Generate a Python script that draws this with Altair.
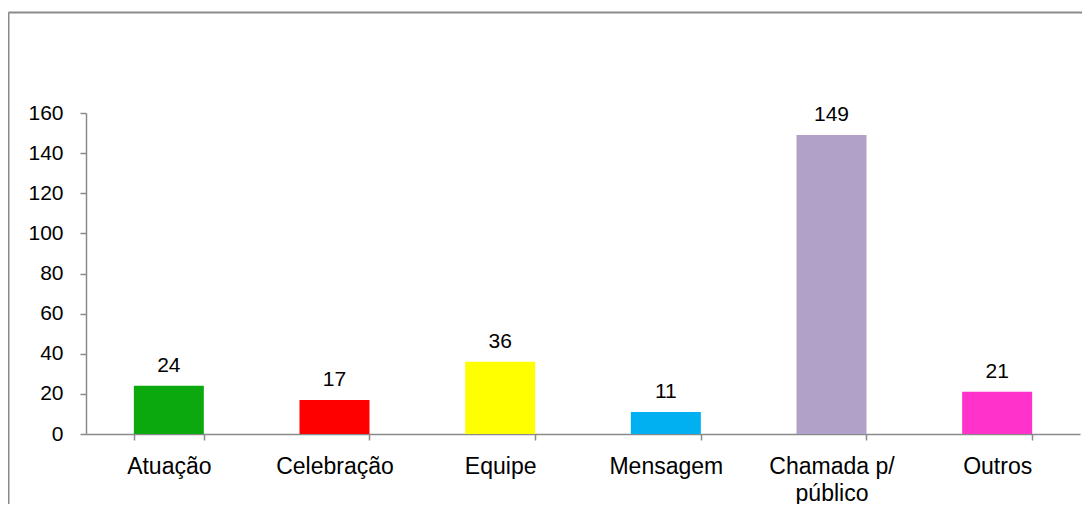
import altair as alt
import pandas as pd

categories = ["Atuação", "Celebração", "Equipe", "Mensagem", "Chamada p/ público", "Outros"]
values = [24, 17, 36, 11, 149, 21]
colors = ["#0BA80E", "#FF0000", "#FFFF00", "#00B0F0", "#B1A0C7", "#FF33CC"]
y_ticks = [0, 20, 40, 60, 80, 100, 120, 140, 160]

df = pd.DataFrame({"cat": categories, "val": values, "col": colors})

FONT = "Liberation Sans"
GRAY = "#8a8a8a"

x_enc = alt.X(
    "cat:N",
    sort=categories,
    scale=alt.Scale(paddingInner=0.5775, paddingOuter=0.28875),
    axis=alt.Axis(
        title=None,
        labelAngle=0,
        tickBand="extent",
        domainColor=GRAY,
        tickColor=GRAY,
        tickSize=6,
        domainWidth=1.5,
        tickWidth=1.5,
        labelFont=FONT,
        labelFontSize=23,
        labelColor="#000000",
        labelPadding=15,
        labelLineHeight=27,
        labelExpr="datum.label == 'Chamada p/ público' ? ['Chamada p/', 'público'] : datum.label",
    ),
)

y_enc = alt.Y(
    "val:Q",
    scale=alt.Scale(domain=[0, 160], nice=False),
    axis=alt.Axis(
        title=None,
        values=y_ticks,
        grid=False,
        domainColor=GRAY,
        tickColor=GRAY,
        tickSize=6,
        domainWidth=1.5,
        tickWidth=1.5,
        labelFont=FONT,
        labelFontSize=21,
        labelColor="#000000",
        labelPadding=17,
    ),
)

base = alt.Chart(df)

bars = base.mark_bar().encode(
    x=x_enc,
    y=y_enc,
    color=alt.Color("col:N", scale=None, legend=None),
)

labels = base.mark_text(
    baseline="alphabetic", dy=-14, font=FONT, fontSize=21, color="#000000"
).encode(
    x=alt.X("cat:N", sort=categories),
    y=alt.Y("val:Q"),
    text=alt.Text("val:Q"),
)

frame_df = pd.DataFrame({"a": [0]})
top_border = alt.Chart(frame_df).mark_rule(color=GRAY, strokeWidth=2, clip=False).encode(
    x=alt.value(-77.5), x2=alt.value(1005), y=alt.value(-100.5)
)
left_border = alt.Chart(frame_df).mark_rule(color=GRAY, strokeWidth=2, clip=False).encode(
    x=alt.value(-77.5), y=alt.value(-100.5), y2=alt.value(396)
)

chart = (
    alt.layer(top_border, left_border, bars, labels)
    .properties(
        width=994,
        height=321,
        autosize=alt.AutoSizeParams(type="none"),
        padding={"left": 78, "top": 105, "right": 2, "bottom": 70},
        background="#ffffff",
    )
    .configure_view(stroke=None)
)

chart.save("out.html", embed_options={"renderer": "svg", "actions": False})
